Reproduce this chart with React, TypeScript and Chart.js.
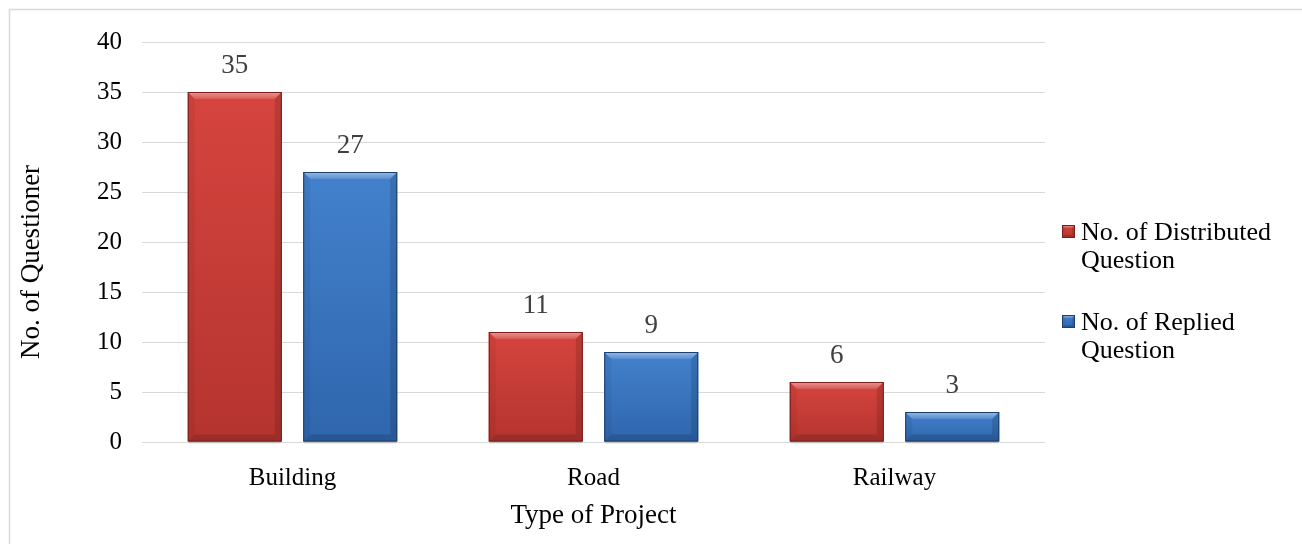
import React, { useEffect, useRef } from "react";
import { Chart, registerables } from "chart.js";

Chart.register(...registerables);

// ---- data ----
const categories = ["Building", "Road", "Railway"];
const distributedValues = [35, 11, 6];
const repliedValues = [27, 9, 3];
const seriesLabels = ["No. of Distributed Question", "No. of Replied Question"];
const legendLines = [
  ["No. of Distributed", "Question"],
  ["No. of Replied", "Question"],
];
const yMin = 0;
const yMax = 40;
const yStep = 5;
const xTitle = "Type of Project";
const yTitle = "No. of Questioner";

// ---- styling ----
const FONT = "'Liberation Serif', 'Times New Roman', serif";
const palettes = [
  { top: "#d6443e", bottom: "#b5342f", edge: "#7a1f1b" },
  { top: "#4381cd", bottom: "#2f66ac", edge: "#1d3f70" },
];

type Pal = { top: string; bottom: string; edge: string };

function bevelBox(
  ctx: CanvasRenderingContext2D,
  left: number,
  top: number,
  right: number,
  bottom: number,
  pal: Pal,
  bevel: number
) {
  const h = bottom - top;
  const w = right - left;
  const b = Math.min(bevel, h / 2, w / 2);
  ctx.save();
  // face
  const face = ctx.createLinearGradient(0, top, 0, bottom);
  face.addColorStop(0, pal.top);
  face.addColorStop(1, pal.bottom);
  ctx.fillStyle = face;
  ctx.fillRect(left, top, w, h);
  // top highlight
  ctx.beginPath();
  ctx.moveTo(left, top);
  ctx.lineTo(right, top);
  ctx.lineTo(right - b, top + b);
  ctx.lineTo(left + b, top + b);
  ctx.closePath();
  const hl = ctx.createLinearGradient(0, top, 0, top + b);
  hl.addColorStop(0, "rgba(255,255,255,0.45)");
  hl.addColorStop(1, "rgba(255,255,255,0.12)");
  ctx.fillStyle = hl;
  ctx.fill();
  // left side
  ctx.beginPath();
  ctx.moveTo(left, top);
  ctx.lineTo(left + b, top + b);
  ctx.lineTo(left + b, bottom - b);
  ctx.lineTo(left, bottom);
  ctx.closePath();
  ctx.fillStyle = "rgba(0,0,0,0.05)";
  ctx.fill();
  // right side
  ctx.beginPath();
  ctx.moveTo(right, top);
  ctx.lineTo(right - b, top + b);
  ctx.lineTo(right - b, bottom - b);
  ctx.lineTo(right, bottom);
  ctx.closePath();
  ctx.fillStyle = "rgba(0,0,0,0.13)";
  ctx.fill();
  // bottom
  ctx.beginPath();
  ctx.moveTo(left, bottom);
  ctx.lineTo(left + b, bottom - b);
  ctx.lineTo(right - b, bottom - b);
  ctx.lineTo(right, bottom);
  ctx.closePath();
  ctx.fillStyle = "rgba(0,0,0,0.14)";
  ctx.fill();
  // outline
  ctx.strokeStyle = pal.edge;
  ctx.lineWidth = 1;
  ctx.strokeRect(left + 0.5, top + 0.5, w - 1, h - 1);
  ctx.restore();
}

// Frame around the whole chart
const framePlugin = {
  id: "frame",
  beforeDraw(chart: any) {
    const ctx = chart.ctx as CanvasRenderingContext2D;
    ctx.save();
    ctx.fillStyle = "#ffffff";
    ctx.fillRect(0, 0, chart.width, chart.height);
    ctx.strokeStyle = "#d9d9d9";
    ctx.lineWidth = 1.5;
    ctx.strokeRect(9.5, 9.5, chart.width + 20, chart.height + 20);
    ctx.restore();
  },
};

// Bevelled bars, value labels
const barDecorPlugin = {
  id: "barDecor",
  afterDatasetsDraw(chart: any) {
    const ctx = chart.ctx as CanvasRenderingContext2D;
    chart.data.datasets.forEach((ds: any, di: number) => {
      const meta = chart.getDatasetMeta(di);
      meta.data.forEach((el: any, i: number) => {
        const p = el.getProps(["x", "y", "base", "width"], true);
        const left = p.x - p.width / 2;
        const right = p.x + p.width / 2;
        // soft shadow under bar
        ctx.save();
        ctx.fillStyle = "rgba(0,0,0,0.12)";
        ctx.fillRect(left + 1, p.base, p.width - 2, 2);
        ctx.restore();
        bevelBox(ctx, left, p.y, right, p.base, palettes[di], 7);
        ctx.save();
        ctx.fillStyle = "#404040";
        ctx.font = `27px ${FONT}`;
        ctx.textAlign = "center";
        ctx.textBaseline = "alphabetic";
        ctx.fillText(String(ds.data[i]), p.x, p.y - 19);
        ctx.restore();
      });
    });
  },
};

// Axis titles and side legend
const annotationsPlugin = {
  id: "annotations",
  afterDraw(chart: any) {
    const ctx = chart.ctx as CanvasRenderingContext2D;
    const area = chart.chartArea;
    ctx.save();
    ctx.fillStyle = "#000000";
    ctx.font = `27px ${FONT}`;
    ctx.textAlign = "center";
    ctx.textBaseline = "alphabetic";
    ctx.fillText(xTitle, (area.left + area.right) / 2, 523);
    ctx.save();
    ctx.translate(39, 262);
    ctx.rotate(-Math.PI / 2);
    ctx.fillText(yTitle, 0, 0);
    ctx.restore();

    ctx.font = `26px ${FONT}`;
    ctx.textAlign = "left";
    const itemTops = [240, 330];
    legendLines.forEach((lines, i) => {
      const base = itemTops[i];
      bevelBox(ctx, 1062, base - 15, 1075, base - 2, palettes[i], 3);
      lines.forEach((t, li) => {
        ctx.fillText(t, 1081, base + li * 28);
      });
    });
    ctx.restore();
  },
};

export default function App() {
  const ref = useRef<HTMLCanvasElement | null>(null);

  useEffect(() => {
    if (!ref.current) return;
    const chart = new Chart(ref.current, {
      type: "bar",
      data: {
        labels: categories,
        datasets: [
          {
            label: seriesLabels[0],
            data: distributedValues,
            backgroundColor: palettes[0].top,
            borderWidth: 0,
          },
          {
            label: seriesLabels[1],
            data: repliedValues,
            backgroundColor: palettes[1].top,
            borderWidth: 0,
          },
        ],
      },
      options: {
        responsive: false,
        animation: false,
        devicePixelRatio: 1,
        layout: { padding: { top: 42, right: 257, bottom: 0, left: 0 } },
        datasets: {
          bar: { categoryPercentage: 0.767, barPercentage: 0.814 },
        },
        plugins: {
          legend: { display: false },
          tooltip: { enabled: false },
          title: { display: false },
        },
        scales: {
          x: {
            grid: { display: false, drawTicks: false },
            border: { display: false },
            ticks: {
              color: "#000000",
              font: { family: FONT, size: 25 },
              padding: 21,
            },
            afterFit(scale: any) {
              scale.height = 102;
            },
          },
          y: {
            min: yMin,
            max: yMax,
            grid: { color: "#d9d9d9", lineWidth: 1, drawTicks: false },
            border: { display: false },
            ticks: {
              stepSize: yStep,
              color: "#000000",
              font: { family: FONT, size: 25 },
              padding: 20,
            },
            afterFit(scale: any) {
              scale.width = 142;
            },
          },
        },
      },
      plugins: [framePlugin, barDecorPlugin, annotationsPlugin],
    });
    return () => chart.destroy();
  }, []);

  return (
    <div style={{ position: "absolute", left: 0, top: 0, width: 1302, height: 544 }}>
      <canvas ref={ref} width={1302} height={544} />
    </div>
  );
}
